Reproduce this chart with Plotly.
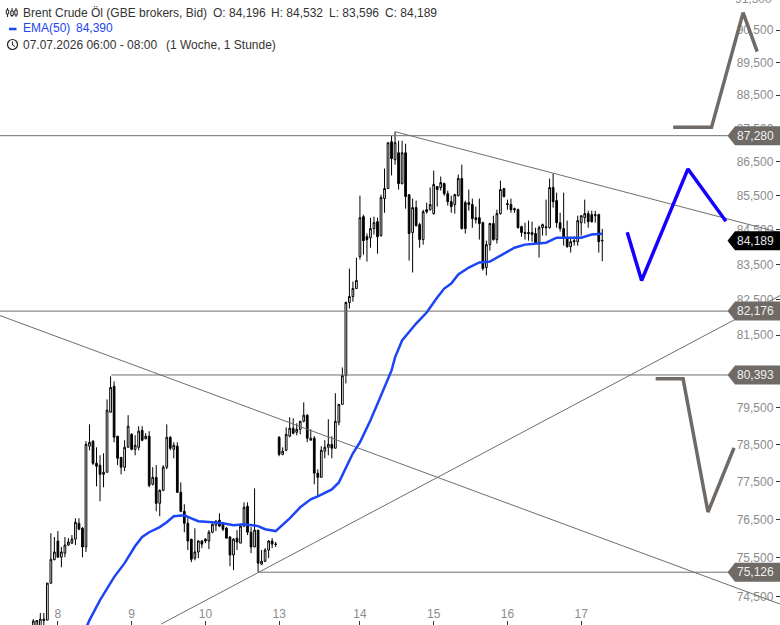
import math
import plotly.graph_objects as go

highs = [73925,73900,74080,74080,74845,76140,76040,76195,75780,76040,
 76010,76090,76530,76530,76300,78585,79040,78610,78420,78205,
 78260,79720,80355,80215,78720,78150,78610,79290,78800,78745,
 78990,78990,78800,78855,77885,77940,77295,77940,79040,78720,
 78555,78555,77480,76900,76530,75985,76270,75960,75960,76010,
 76220,76400,76480,76660,76425,76300,76065,76010,76220,76350,
 76950,76950,76300,77320,76220,75700,75750,75960,76010,75910,
 78720,78420,78960,79235,79205,79070,79125,79640,79315,78905,
 78720,77830,78450,78610,79180,78720,79890,79585,80600,82445,
 83385,83015,83700,85500,84945,84395,84855,84885,84855,85530,
 86300,87070,87280,87400,87130,87130,87040,85530,85415,85355,
 84710,85090,85295,85740,86240,85770,86065,85885,85650,85500,
 85560,86120,86415,85355,85680,85415,85180,85415,84740,84190,
 84710,84915,85090,85945,85710,85385,85415,85150,85120,84625,
 84710,84770,84740,84565,84625,84685,85385,86005,86150,85590,
 85000,85590,84770,84275,84305,84915,84915,85385,85060,85060,
 85060,84975,84532]
lows = [73595,73595,73645,73720,73900,74820,75435,75500,75255,75515,
 75805,75855,75830,76220,75515,75650,78340,77940,77375,76980,
 77350,77750,79370,78555,77940,77695,77780,78420,78340,78205,
 78340,78585,78635,77350,77400,76715,76585,77245,77830,78340,
 78125,77215,76690,76165,75700,75385,75435,75490,75750,75880,
 75725,76140,76195,76300,76195,76010,75280,75180,75700,75880,
 76300,76090,75620,75780,75130,75310,75385,75490,75750,75780,
 78180,78205,78315,78690,78770,78745,78770,79095,78555,78610,
 77430,77110,77615,78125,78205,78125,78395,79015,79585,80160,
 82250,82445,82815,83645,83785,83585,83985,84365,83815,84305,
 85000,85710,86095,86415,85680,85830,85120,83615,83275,84595,
 83985,84075,84975,85060,84945,85180,85650,85500,85210,85000,
 84975,85475,84510,84395,85060,84565,84685,84220,83330,83190,
 83900,84190,84105,84945,85445,85090,85000,85000,84540,84305,
 84220,84190,84160,84105,83700,84335,84335,84540,85150,84565,
 84450,84045,83985,83845,84045,84045,84335,84685,84565,84710,
 84710,83845,83596]
opens = [73695,73695,73695,73925,73900,74845,75450,75935,75515,75620,
 75830,75880,75985,76400,76270,75780,78450,78585,77990,77940,
 77695,77750,79370,80080,78720,78150,77885,78420,78770,78365,
 78420,78880,78650,78720,77430,77615,76925,77270,77885,78690,
 78365,78450,77215,76715,76400,75985,75490,75650,75935,75985,
 75935,76165,76350,76480,76400,76270,76040,75570,76010,75880,
 76325,76845,76165,75780,76220,75335,75410,75700,75935,75845,
 78690,78230,78340,78720,78935,78825,78905,79125,79290,78610,
 78665,77725,77615,78315,78420,78500,78395,79095,79585,80380,
 82420,82590,82815,83730,84885,84305,84275,84540,84740,84335,
 85415,85710,87100,86565,86770,85855,86770,85530,84425,85150,
 84655,84220,85090,85090,84975,85770,85740,85855,85560,85325,
 85240,85500,86005,85295,85295,85240,84855,84855,84710,83415,
 84075,84685,84220,84975,85710,85265,85240,85120,85090,84595,
 84425,84425,84365,84395,84130,84565,84595,84565,85740,85355,
 84710,84540,84275,84015,84190,84160,84710,84855,84975,84945,
 84915,84945,84196]
closes = [73875,73888,73925,73888,74845,75460,75650,75515,75650,75830,
 75910,75985,76425,76245,75780,78500,78555,77990,77910,77695,
 77750,79425,80050,78690,78125,77885,78420,78990,78365,78475,
 78855,78610,78720,77400,77615,76925,77270,77885,78690,78395,
 78475,77215,76715,76400,75935,75460,75650,75935,75855,75935,
 76165,76375,76455,76325,76245,76010,75570,75985,75910,76325,
 76820,76165,75780,76220,75360,75410,75700,75935,75855,75855,
 78230,78315,78770,78935,78800,78905,79125,79290,78665,78665,
 77725,77615,78340,78420,78500,78395,79125,79585,80380,82420,
 82590,82815,83045,84855,84190,84220,84540,84710,84305,85445,
 85710,87070,86595,87070,85855,86770,85475,84395,85150,84625,
 84220,85030,85030,85240,85830,85680,85885,85560,85325,85180,
 85530,86005,84540,84540,85240,84830,84800,84685,83385,84075,
 84685,84220,84975,85680,85475,85240,85090,85090,84565,84425,
 84395,84395,84425,84130,84565,84655,84565,85740,85325,84710,
 84540,84275,84015,84160,84160,84770,84915,84975,84740,84740,
 84945,84160,84189]
bar_index = list(range(len(opens)))

ema_index = [15,16,19,23,26,29,31,33,36,38,40,43,45,47,51,54,57,60,64,66,69,71,73,76,79,81,85,87,89,91,93,96,99,102,103,105,109,112,115,117,119,121,124,127,130,133,137,140,144,146,149,152,156,159,162]
ema_values = [73695,73900,74410,75000,75360,75805,76040,76165,76300,76425,76585,76610,76530,76455,76425,76400,76350,76375,76325,76245,76195,76350,76530,76820,77030,77110,77295,77480,77860,78260,78555,79150,79830,80520,80880,81350,81825,82135,82560,82815,82960,83215,83415,83560,83585,83755,83985,84075,84105,84130,84275,84275,84275,84365,84390]

level_values = [87280, 82176, 80393, 75126]
level_start = [-9.48, -9.48, 22.2, 64]
level_labels = ["87,280", "82,176", "80,393", "75,126"]
last_price = 84189
last_label = "84,189"

trend_top_x, trend_top_y = [103, 212.6], [87400, 84420]
trend_down_x, trend_down_y = [-9.48, 212.6], [82050, 74310]
trend_up_x, trend_up_y = [36.4, 212.6], [73800, 82615]

gray_up_x, gray_up_y = [182.2, 193.1, 202.1, 206.1], [87530, 87530, 91050, 89840]
blue_x, blue_y = [169.1, 173.2, 186.4, 197.2], [84430, 83045, 86290, 84750]
gray_down_x, gray_down_y = [177.2, 185, 192.1, 199.5], [80290, 80290, 76695, 78405]

y_ticks = [74500,75500,76500,77500,78500,79500,80500,81500,82500,83500,84500,85500,86500,87500,88500,89500,90500]
y_tick_text = ["74,500","75,500","76,500","77,500","78,500","79,500","80,500","81,500","82,500","83,500","84,500","85,500","86,500","87,500","88,500","89,500","90,500"]
x_ticks = [7, 28, 49, 70, 93, 114, 135, 156]
x_tick_text = ["8", "9", "10", "13", "14", "15", "16", "17"]

Y_LO, Y_HI = 73776, 91445
X_LO, X_HI = -9.48, 212.6
W, H = 780, 625
FONT = "Liberation Sans"
TAG = "#6f6a66"
LINE = "#6e6e6e"
EMA = "#1c45f5"

def pxx(x): return x / W
def pxy(y): return 1 - y / H
def price_y(p):
    return (math.log10(p) - math.log10(Y_LO)) / (math.log10(Y_HI) - math.log10(Y_LO))

fig = go.Figure()
fig.add_trace(go.Candlestick(
    x=bar_index, open=opens, high=highs, low=lows, close=closes,
    increasing=dict(line=dict(color="#000000", width=1), fillcolor="#ffffff"),
    decreasing=dict(line=dict(color="#000000", width=1), fillcolor="#000000"),
    whiskerwidth=0, showlegend=False, hoverinfo="skip",
))
def line(x, y, color, width):
    fig.add_trace(go.Scatter(x=x, y=y, mode="lines", showlegend=False, hoverinfo="skip",
                             line=dict(color=color, width=width)))
for v, s in zip(level_values, level_start):
    line([s, X_HI], [v, v], LINE, 1)
line(trend_top_x, trend_top_y, LINE, 1)
line(trend_down_x, trend_down_y, LINE, 1)
line(trend_up_x, trend_up_y, LINE, 1)
line(ema_index, ema_values, EMA, 2.5)
line(gray_up_x, gray_up_y, TAG, 3.5)
line(blue_x, blue_y, "#1400ff", 3.5)
line(gray_down_x, gray_down_y, TAG, 3.5)

shapes, annos = [], []
def tag(price, label, color, txtcolor):
    c = price_y(price)
    d = 9.5 / H
    path = "M %f %f L %f %f L %f %f L %f %f L %f %f Z" % (
        pxx(727.5), c, pxx(735), c + d, 1, c + d, 1, c - d, pxx(735), c - d)
    shapes.append(dict(type="path", path=path, xref="paper", yref="paper",
                       fillcolor=color, line=dict(width=0), layer="above"))
    annos.append(dict(x=pxx(755), y=c, xref="paper", yref="paper", text=label, showarrow=False,
                      xanchor="center", yanchor="middle",
                      font=dict(family=FONT, size=12, color=txtcolor)))
for v, l in zip(level_values, level_labels):
    tag(v, l, TAG, "#f0f0f0")
tag(last_price, last_label, "#000000", "#e8e8e8")

def text(x, y, s, color="#333333"):
    annos.append(dict(x=pxx(x - 2), y=pxy(y), xref="paper", yref="paper", text=s, showarrow=False,
                      xanchor="left", yanchor="middle",
                      font=dict(family=FONT, size=12, color=color)))
text(23, 12.5, "Brent Crude Öl (GBE brokers, Bid)")
text(213, 12.5, "O: 84,196")
text(271, 12.5, "H: 84,532")
text(329, 12.5, "L: 83,596")
text(385, 12.5, "C: 84,189")
text(23, 28.5, "EMA(50)", EMA)
text(76, 28.5, "84,390", EMA)
text(23, 44.5, "07.07.2026 06:00 - 08:00")
text(166, 44.5, "(1 Woche, 1 Stunde)")
annos.append(dict(x=pxx(773.5), y=pxy(-1.5), xref="paper", yref="paper", text="91,500", showarrow=False,
                  xanchor="right", yanchor="middle", font=dict(family=FONT, size=12, color="#8c8c8c")))

def seg(x0, y0, x1, y1, w=1.0, color="#222222"):
    shapes.append(dict(type="line", xref="paper", yref="paper", x0=pxx(x0), y0=pxy(y0), x1=pxx(x1), y1=pxy(y1),
                       line=dict(color=color, width=w)))
seg(9, 29, 16.5, 29, 2.5, EMA)
shapes.append(dict(type="circle", xref="paper", yref="paper", x0=pxx(7.5), y0=pxy(49.5), x1=pxx(17.5), y1=pxy(39.5),
                   line=dict(color="#222222", width=1.2)))
seg(12.5, 41.5, 12.5, 45, 1)
seg(12.5, 45, 15, 46.5, 1)
for cx, t, b, wt, wb in [(7.5, 10, 14, 8, 17), (12, 11, 15.5, 8, 17), (16, 10, 15, 8, 17)]:
    seg(cx, wt, cx, wb, 1)
    shapes.append(dict(type="rect", xref="paper", yref="paper", x0=pxx(cx - 1.2), x1=pxx(cx + 1.2), y0=pxy(b), y1=pxy(t),
                       fillcolor="#ffffff", line=dict(color="#222222", width=1)))

fig.update_layout(
    width=W, height=H, autosize=False, margin=dict(l=0, r=0, t=0, b=0),
    paper_bgcolor="#ffffff", plot_bgcolor="#ffffff", showlegend=False,
    font=dict(family=FONT, size=12), shapes=shapes, annotations=annos,
    xaxis=dict(range=[X_LO, X_HI], rangeslider=dict(visible=False), showgrid=False, zeroline=False,
               tickmode="array", tickvals=x_ticks, ticktext=x_tick_text, ticks="inside", ticklen=4,
               tickcolor="#333333", ticklabelposition="inside", layer="below traces",
               tickfont=dict(family=FONT, size=12, color="#8c8c8c"), showline=False),
    yaxis=dict(type="log", side="right", range=[math.log10(Y_LO), math.log10(Y_HI)], showgrid=False, zeroline=False,
               tickmode="array", tickvals=y_ticks, ticktext=y_tick_text, ticks="inside", ticklen=4,
               tickcolor="#333333", ticklabelposition="inside", ticklabelstandoff=2, layer="below traces",
               tickfont=dict(family=FONT, size=12, color="#8c8c8c"), showline=False),
)
fig.write_html("out.html", config={"displayModeBar": False}, post_script="document.body.style.margin='0';")
